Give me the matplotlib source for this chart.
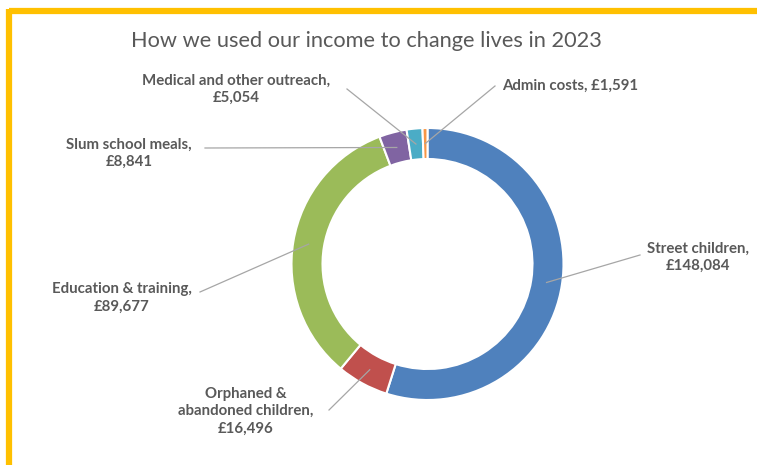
import numpy as np
import matplotlib
matplotlib.use('Agg')
import matplotlib.pyplot as plt

# Spending categories, in the order they go round the ring (clockwise from 12 o'clock)
categories = ['Street children', 'Orphaned &\nabandoned children', 'Education & training',
              'Slum school meals', 'Medical and other outreach', 'Admin costs']
amounts = [148084, 16496, 89677, 8841, 5054, 1591]
colours = ['#4F81BD', '#C0504D', '#9BBB59', '#8064A2', '#4BACC6', '#F79646']

W, H = 757, 465
fig = plt.figure(figsize=(W / 100, H / 100), dpi=100)
ax = fig.add_axes([0, 0, 1, 1])


def py(y):
    # pixel rows count down from the top
    return H - y


cx, cy = 427.5, py(264)
R = 136
ring = 31
wedges, _ = ax.pie(amounts, colors=colours, radius=R, center=(cx, cy),
                   startangle=90, counterclock=False, frame=True,
                   wedgeprops=dict(width=ring, edgecolor='white', linewidth=1.5))
ax.set_xlim(0, W)
ax.set_ylim(0, H)
ax.set_aspect('equal')
ax.axis('off')

# yellow frame (top and left edges)
ax.plot([9, W + 5], [py(11), py(11)], color='#FFC000', lw=4.5, solid_capstyle='butt')
ax.plot([9, 9], [py(8.8), -5], color='#FFC000', lw=4.5, solid_capstyle='butt')

ax.text(366, py(41), 'How we used our income to change lives in 2023', ha='center', va='center',
        fontsize=15.7, color='#595959', family='Lato')


def fmt(v):
    return '£{:,}'.format(v)


# text centre and leader start, in pixels from the top-left
labels = [
    dict(text=f'{categories[0]},\n{fmt(amounts[0])}', pos=(698, 257), start=(640, 255), ha='center'),
    dict(text=f'{categories[1]},\n{fmt(amounts[1])}', pos=(246, 411), start=(329, 410), ha='center'),
    dict(text=f'{categories[2]},\n{fmt(amounts[2])}', pos=(122, 298), start=(200, 292), ha='center'),
    dict(text=f'{categories[3]},\n{fmt(amounts[3])}', pos=(129, 153), start=(205, 148), ha='center'),
    dict(text=f'{categories[4]},\n{fmt(amounts[4])}', pos=(236, 89), start=(347, 89), ha='center'),
    dict(text=f'{categories[5]}, {fmt(amounts[5])}', pos=(502, 86), start=(495, 86), ha='left'),
]

r_mid = R - ring / 2
for w, lab in zip(wedges, labels):
    ang = np.deg2rad((w.theta1 + w.theta2) / 2)
    ex, ey = cx + r_mid * np.cos(ang), cy + r_mid * np.sin(ang)
    sx, sy = lab['start']
    ax.plot([sx, ex], [py(sy), ey], color='#A6A6A6', lw=0.9, zorder=3)
    ax.text(lab['pos'][0], py(lab['pos'][1]), lab['text'], ha=lab['ha'], va='center',
            fontsize=10.8, fontweight='bold', color='#595959', family='Lato',
            linespacing=1.3, zorder=4)

fig.savefig('out.png', dpi=100, facecolor='white')
